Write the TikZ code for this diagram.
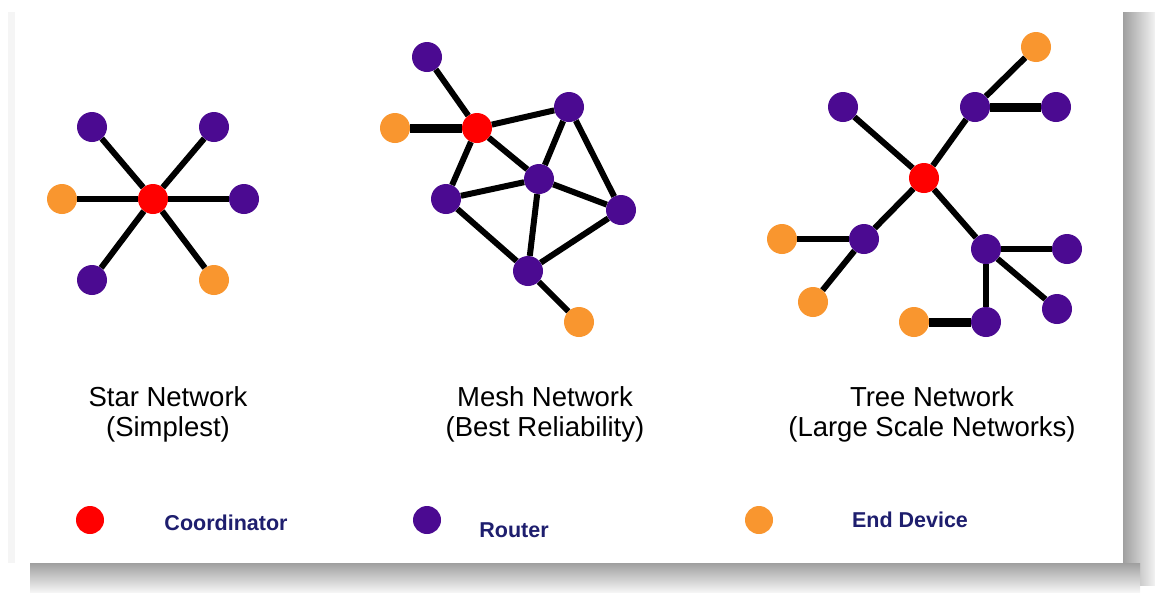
\documentclass[tikz,border=0pt]{standalone}
\usepackage{fontspec}
\setmainfont{Liberation Sans}
\begin{document}
\definecolor{cred}{HTML}{FF0000}
\definecolor{cpur}{HTML}{4B0A91}
\definecolor{corg}{HTML}{F9962F}
\definecolor{navy}{HTML}{1E1E6E}
\begin{tikzpicture}[x=1pt,y=-1pt,
  dev/.style={circle,inner sep=0pt,minimum size=30pt},
  coord/.style={dev,fill=cred},
  router/.style={dev,fill=cpur},
  enddev/.style={dev,fill=corg},
  link/.style={line width=6pt,black},
  tlink/.style={line width=9pt,black},
  title/.style={align=center,font=\fontsize{27.5}{30}\selectfont,text=black},
  legend/.style={font=\bfseries\fontsize{21.5}{24}\selectfont,text=navy}]
\useasboundingbox (0,0) rectangle (1155,592);
% shadows and panel
\shade[left color=gray!75,right color=gray!10] (1123,12) rectangle (1155,585);
\shade[top color=gray!75,bottom color=gray!8] (30,563) rectangle (1140,592);
\fill[gray!8] (8,12) rectangle (16,563);
\fill[white] (15,10) rectangle (1123,563);

% ---------- Star ----------
\node[coord] (sc) at (153,199) {};
\node[router] (s1) at (92,127) {};
\node[router] (s2) at (214,127) {};
\node[router] (s3) at (244,199) {};
\node[enddev] (s4) at (62,199) {};
\node[router] (s5) at (92,280) {};
\node[enddev] (s6) at (214,280) {};
\foreach \n in {s1,s2,s3,s4,s5,s6} \draw[link] (sc) -- (\n);

% ---------- Mesh ----------
\node[coord] (mc) at (477,128) {};
\node[router] (m1) at (427,57) {};
\node[enddev] (m2) at (395,128) {};
\node[router] (m3) at (569,107) {};
\node[router] (m4) at (539,179) {};
\node[router] (m5) at (446,199) {};
\node[router] (m6) at (621,210) {};
\node[router] (m7) at (528,271) {};
\node[enddev] (m8) at (579,322) {};
\draw[link] (mc) -- (m1);
\draw[tlink] (mc) -- (m2);
\draw[link] (mc) -- (m3);
\draw[link] (mc) -- (m4);
\draw[link] (mc) -- (m5);
\draw[link] (m3) -- (m4);
\draw[link] (m3) -- (m6);
\draw[link] (m5) -- (m4);
\draw[link] (m4) -- (m6);
\draw[link] (m5) -- (m7);
\draw[link] (m4) -- (m7);
\draw[link] (m6) -- (m7);
\draw[link] (m7) -- (m8);

% ---------- Tree ----------
\node[coord] (tc) at (924,178) {};
\node[router] (t1) at (843,107) {};
\node[router] (t2) at (975,107) {};
\node[enddev] (t3) at (1036,47) {};
\node[router] (t4) at (1056,107) {};
\node[router] (t5) at (864,239) {};
\node[enddev] (t6) at (782,239) {};
\node[enddev] (t7) at (813,302) {};
\node[router] (t8) at (986,249) {};
\node[router] (t9) at (1067,249) {};
\node[router] (t10) at (1057,309) {};
\node[router] (t11) at (986,322) {};
\node[enddev] (t12) at (914,322) {};
\draw[link] (tc) -- (t1);
\draw[link] (tc) -- (t2);
\draw[link] (t2) -- (t3);
\draw[tlink] (t2) -- (t4);
\draw[link] (tc) -- (t5);
\draw[link] (t5) -- (t6);
\draw[link] (t5) -- (t7);
\draw[link] (tc) -- (t8);
\draw[link] (t8) -- (t9);
\draw[link] (t8) -- (t10);
\draw[link] (t8) -- (t11);
\draw[tlink] (t11) -- (t12);

% ---------- Titles ----------
\node[title] (ts) at (168,414) {Star Network\\(Simplest)};
\node[title] (tm) at (545,414) {Mesh Network\\(Best Reliability)};
\node[title] (tt) at (932,414) {Tree Network\\(Large Scale Networks)};

% ---------- Legend ----------
\node[coord,minimum size=28pt] (lc) at (90,520) {};
\node[legend] (lct) at (226,523) {Coordinator};
\node[router,minimum size=28pt] (lr) at (427,520) {};
\node[legend] (lrt) at (514,530) {Router};
\node[enddev,minimum size=28pt] (le) at (759,520) {};
\node[legend] (let) at (910,520) {End Device};
\end{tikzpicture}
\end{document}
